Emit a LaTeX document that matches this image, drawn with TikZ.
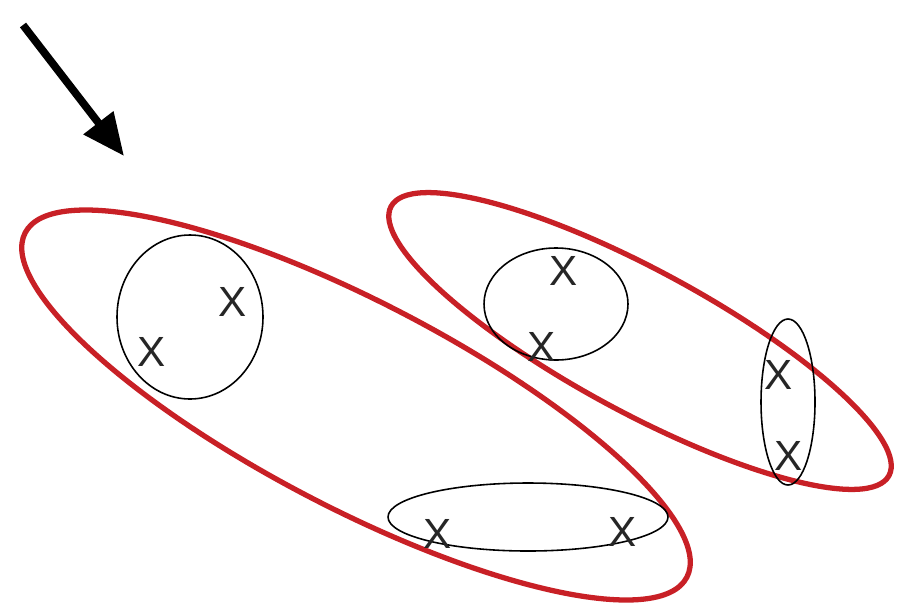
\documentclass[tikz,border=0pt]{standalone}
\usepackage{fontspec}
\setsansfont{Liberation Sans}
\usetikzlibrary{arrows.meta}
\definecolor{clusterred}{RGB}{200,32,38}
\tikzset{
    xmark/.style={font=\sffamily\fontsize{12}{12}\selectfont, text=black!85, inner sep=0pt},
    group/.style={draw=black, line width=0.45pt},
    cluster/.style={draw=clusterred, line width=1.5pt}
}
\begin{document}
\begin{tikzpicture}[x=0.01cm, y=-0.01cm]
    \useasboundingbox (0,0) rectangle (904,606);

    % arrow pointing at the left cluster
    \coordinate (arrowtail) at (23,25);
    \coordinate (arrowtip) at (124,156);
    \draw[line width=2.2pt, -{Triangle[length=4.2mm, width=3.6mm]}] (arrowtail) -- (arrowtip);

    % two large clusters
    \draw[cluster, rotate around={-27.5:(356,405)}] (356,405) ellipse [x radius=373, y radius=103];
    \draw[cluster, rotate around={-28.4:(640,341)}] (640,341) ellipse [x radius=283, y radius=71];

    % small groups
    \draw[group] (190,317) ellipse [x radius=73, y radius=82];
    \draw[group] (556,304) ellipse [x radius=72, y radius=56];
    \draw[group] (788,402) ellipse [x radius=27, y radius=83];
    \draw[group] (528,517) ellipse [x radius=140, y radius=34];

    % points
    \node[xmark] (p1) at (233,302) {X};
    \node[xmark] (p2) at (152,352) {X};
    \node[xmark] (p3) at (564,271) {X};
    \node[xmark] (p4) at (542,347) {X};
    \node[xmark] (p5) at (779,375) {X};
    \node[xmark] (p6) at (789,456) {X};
    \node[xmark] (p7) at (438,534) {X};
    \node[xmark] (p8) at (623,532) {X};
\end{tikzpicture}
\end{document}
